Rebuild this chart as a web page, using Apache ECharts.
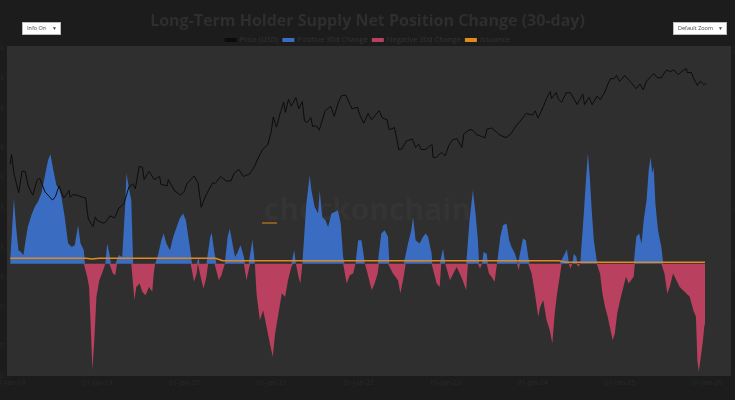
<!DOCTYPE html>
<html><head><meta charset="utf-8">
<script src="https://cdn.jsdelivr.net/npm/echarts@6/dist/echarts.min.js"></script>
<style>
html,body{margin:0;padding:0;background:#1c1c1c;}
#c{width:735px;height:400px;}
.dd{position:absolute;top:22px;height:13px;background:#fff;border:1px solid #bbb;box-sizing:border-box;font:5.5px 'Open Sans',sans-serif;color:#444;line-height:11px;}
.dd span.a{position:absolute;right:3px;top:0;font-size:5px;}
</style></head>
<body>
<div id="c"></div>
<div class="dd" style="left:22px;width:39px;"><span style="margin-left:4px">Info On</span><span class="a">▼</span></div>
<div class="dd" style="left:673px;width:54px;"><span style="margin-left:4px">Default Zoom</span><span class="a">▼</span></div>
<script>
// ---- Data ----
const tickLabelsX = ['2018','2019','2020','2021','2022','2023','2024','2025','2026'];
const priceTicks = [100,200,500,1000,2000,5000,10000,20000,50000,100000,200000];
const netTicks = [-1000,-500,0,500,1000,1500,2000];

const priceDates = ['2018-01-01','2018-01-07','2018-01-17','2018-02-06','2018-02-20','2018-03-05','2018-03-18','2018-04-06','2018-04-25','2018-05-05','2018-05-28','2018-06-12','2018-06-28','2018-07-10','2018-07-25','2018-08-14','2018-08-30','2018-09-05','2018-09-10','2018-09-22','2018-10-10','2018-10-31','2018-11-14','2018-11-20','2018-11-25','2018-12-07','2018-12-15','2018-12-24','2018-12-31',
'2019-01-10','2019-01-28','2019-02-08','2019-02-24','2019-03-15','2019-04-02','2019-04-23','2019-05-14','2019-05-30','2019-06-10','2019-06-26','2019-07-10','2019-07-17','2019-08-06','2019-08-29','2019-09-20','2019-09-25','2019-10-22','2019-10-26','2019-11-22','2019-12-17','2019-12-31',
'2020-01-14','2020-02-12','2020-02-28','2020-03-12','2020-03-16','2020-04-01','2020-04-29','2020-05-10','2020-06-01','2020-06-25','2020-07-15','2020-07-28','2020-08-17','2020-09-05','2020-09-30','2020-10-21','2020-11-05','2020-11-24','2020-12-16','2020-12-31',
'2021-01-08','2021-01-22','2021-02-08','2021-02-21','2021-02-28','2021-03-13','2021-03-25','2021-04-13','2021-04-25','2021-05-10','2021-05-19','2021-05-30','2021-06-15','2021-06-22','2021-07-08','2021-07-20','2021-08-14','2021-09-06','2021-09-21','2021-10-06','2021-10-20','2021-11-08','2021-11-26','2021-12-04','2021-12-27',
'2022-01-05','2022-01-22','2022-02-10','2022-02-24','2022-03-28','2022-04-11','2022-04-30','2022-05-09','2022-05-31','2022-06-13','2022-06-18','2022-07-01','2022-07-20','2022-08-14','2022-08-28','2022-09-10','2022-09-20','2022-10-10','2022-10-26','2022-11-05','2022-11-09','2022-11-21','2022-12-14','2022-12-30',
'2023-01-14','2023-01-29','2023-02-16','2023-03-10','2023-03-18','2023-04-13','2023-04-27','2023-05-11','2023-06-15','2023-06-23','2023-07-13','2023-08-17','2023-09-11','2023-10-02','2023-10-23','2023-11-09','2023-12-05','2023-12-31',
'2024-01-11','2024-01-23','2024-02-15','2024-02-28','2024-03-14','2024-03-20','2024-04-08','2024-04-17','2024-05-01','2024-05-21','2024-06-07','2024-06-24','2024-07-05','2024-07-29','2024-08-05','2024-08-24','2024-09-06','2024-09-27','2024-10-10','2024-10-29','2024-11-12','2024-11-22','2024-12-05','2024-12-17','2024-12-30',
'2025-01-20','2025-02-03','2025-02-27','2025-03-10','2025-03-25','2025-04-08','2025-04-22','2025-05-22','2025-06-05','2025-06-22','2025-07-14','2025-07-31','2025-08-14','2025-09-01','2025-09-18','2025-10-06','2025-10-10','2025-10-27','2025-11-04','2025-11-21','2025-12-03','2025-12-18','2025-12-28'];
const priceValues = [13500,17000,11000,7000,11500,11500,8200,6600,9500,9800,7100,6500,5900,6400,8200,6200,7000,7400,6300,6700,6600,6300,6200,4600,3800,3400,3200,4000,3700,
3600,3450,3600,4100,3900,4900,5400,8000,8600,7700,12900,12600,9500,11500,9500,10200,8500,8200,9500,7300,6600,7200,
8800,10300,8700,5000,5000,6600,8800,8700,10200,9200,9200,11000,12000,10200,10800,12800,15500,19000,21300,29000,
40500,32000,46000,57000,45000,61000,52000,63500,49000,58000,37000,35600,40000,32500,33000,29800,47000,51700,41000,55000,66000,67500,54000,49000,50800,
43000,35000,44000,38000,47000,39500,38000,30000,31700,22500,19000,19300,23200,24300,20000,21600,19000,19100,20700,21300,15900,15800,17800,16500,
20900,23700,24600,20000,27400,30400,29500,26900,25000,30600,31400,26600,25100,27500,33000,36700,44000,42300,
46600,39500,52000,62500,73000,62000,71600,61300,57000,71400,71000,60300,54000,69000,54000,64000,53900,65800,60300,72400,88000,99000,98000,106000,92000,
106000,98000,84000,78000,87000,76300,93000,111000,101000,100000,120000,115700,121000,108000,117000,124000,113000,114000,101000,84000,93000,86000,87500];

// 30-day net position change, thousands of BTC
const netDates = ['2018-01-02','2018-01-17','2018-01-26','2018-02-05','2018-02-15','2018-02-26','2018-03-07','2018-03-16','2018-03-31','2018-04-14','2018-04-28','2018-05-12','2018-05-26','2018-06-09','2018-06-19','2018-06-30','2018-07-14','2018-07-25','2018-08-04','2018-08-18','2018-09-01','2018-09-16','2018-09-29','2018-10-13','2018-10-23','2018-11-06','2018-11-11','2018-11-20','2018-11-28','2018-12-05','2018-12-12','2018-12-20','2018-12-29',
'2019-01-10','2019-01-24','2019-02-04','2019-02-12','2019-02-21','2019-02-28','2019-03-08','2019-03-18','2019-03-25','2019-04-02','2019-04-16','2019-04-28','2019-05-04','2019-05-13','2019-05-24','2019-05-29','2019-06-01','2019-06-06','2019-06-14','2019-06-28','2019-07-09','2019-07-23','2019-08-06','2019-08-20','2019-08-26','2019-09-01','2019-09-13','2019-09-27','2019-10-07','2019-10-18','2019-11-02','2019-11-16','2019-11-30','2019-12-13','2019-12-27',
'2020-01-08','2020-01-18','2020-01-28','2020-02-03','2020-02-11','2020-02-22','2020-02-27','2020-03-01','2020-03-05','2020-03-13','2020-03-22','2020-04-03','2020-04-10','2020-04-19','2020-04-25','2020-05-07','2020-05-15','2020-05-25','2020-06-05','2020-06-19','2020-07-01','2020-07-10','2020-07-21','2020-08-01','2020-08-10','2020-08-24','2020-09-07','2020-09-12','2020-09-18','2020-09-27','2020-10-03','2020-10-13','2020-10-23','2020-10-30','2020-11-13','2020-11-27','2020-12-11','2020-12-25',
'2021-01-06','2021-01-16','2021-01-30','2021-02-13','2021-02-27','2021-03-11','2021-03-25','2021-04-01','2021-04-06','2021-04-13','2021-04-24','2021-05-02','2021-05-10','2021-05-27','2021-06-10','2021-06-17','2021-07-01','2021-07-15','2021-07-22','2021-08-01','2021-08-15','2021-08-26','2021-09-09','2021-09-23','2021-10-06','2021-10-18','2021-10-28','2021-11-03','2021-11-12','2021-11-25','2021-12-09','2021-12-19','2021-12-30',
'2022-01-13','2022-01-21','2022-01-27','2022-02-04','2022-02-25','2022-03-09','2022-03-22','2022-03-27','2022-04-06','2022-04-20','2022-05-04','2022-05-10','2022-05-25','2022-06-15','2022-06-25','2022-07-09','2022-07-17','2022-07-27','2022-08-10','2022-08-17','2022-08-28','2022-09-14','2022-09-28','2022-10-09','2022-10-19','2022-11-03','2022-11-06','2022-11-24','2022-12-07','2022-12-13','2022-12-21','2022-12-30',
'2023-01-19','2023-02-02','2023-02-16','2023-03-01','2023-03-13','2023-03-28','2023-04-04','2023-04-11','2023-04-25','2023-05-06','2023-05-16','2023-05-21','2023-05-25','2023-06-02','2023-06-09','2023-06-22','2023-06-27','2023-07-01','2023-07-12','2023-07-25','2023-08-04','2023-08-18','2023-08-29','2023-09-13','2023-09-24','2023-10-04','2023-10-18','2023-10-27','2023-10-31','2023-11-03','2023-11-08','2023-11-21','2023-12-03','2023-12-13','2023-12-19','2023-12-27',
'2024-01-10','2024-01-24','2024-02-01','2024-02-14','2024-02-28','2024-03-12','2024-03-23','2024-04-02','2024-04-12','2024-04-23','2024-05-01','2024-05-14','2024-05-23','2024-06-01','2024-06-06','2024-06-15','2024-06-21','2024-07-02','2024-07-06','2024-07-10','2024-07-18','2024-07-24','2024-08-02','2024-08-10','2024-08-19','2024-08-27','2024-09-05','2024-09-13','2024-09-25','2024-09-29','2024-10-09','2024-10-19','2024-10-30','2024-11-10','2024-11-19','2024-12-01','2024-12-10','2024-12-20',
'2025-01-01','2025-01-15','2025-01-26','2025-02-06','2025-02-16','2025-02-27','2025-03-04','2025-03-10','2025-03-22','2025-04-01','2025-04-10','2025-04-22','2025-05-01','2025-05-09','2025-05-16','2025-05-22','2025-05-29','2025-06-09','2025-06-23','2025-07-01','2025-07-06','2025-07-18','2025-07-28','2025-08-11','2025-08-25','2025-09-08','2025-09-22','2025-10-06','2025-10-20','2025-11-04','2025-11-15','2025-11-21','2025-11-27','2025-12-04','2025-12-13','2025-12-20','2025-12-23'];
const netValues = [50,612,344,126,110,80,220,341,453,531,578,659,811,967,1023,890,734,703,625,437,190,157,173,360,190,126,0,-123,-217,-590,-995,-715,-310,
-154,-76,0,189,97,0,-92,-107,0,80,62,531,845,718,593,220,0,-341,-217,-185,-263,-294,-217,-263,-92,0,80,220,282,189,126,251,341,422,469,
406,251,97,0,-170,-92,0,62,0,-154,-232,-123,0,251,287,97,0,-154,-107,0,251,327,189,62,97,173,62,0,-154,-60,0,226,0,-279,-528,-435,-590,-746,
-871,-653,-466,-279,-310,-154,-30,0,126,0,-123,-185,0,563,827,687,531,469,687,437,406,344,469,484,500,376,64,0,-185,-107,-92,0,220,
220,95,0,-62,-248,-185,-92,0,282,313,251,0,-92,-154,-279,-123,0,189,313,437,220,189,251,282,251,95,0,-185,-217,0,143,0,
-154,-92,-30,-92,-154,-248,0,406,687,469,220,0,-47,0,109,94,0,-92,-123,-170,0,251,360,376,220,157,95,31,0,-62,0,235,220,62,0,-92,
-279,-497,-404,-341,-528,-621,-746,-466,-279,-123,0,93,133,0,-47,0,93,62,0,-31,0,189,469,750,1030,811,469,220,31,0,-92,-279,-404,-497,-590,-715,-653,-466,
-341,-217,-123,-185,-154,-123,0,251,282,187,406,593,874,998,843,905,563,313,157,0,-92,-279,-217,-92,-154,-217,-248,-279,-310,-435,-497,-902,-1010,-995,-746,-590,-560];

// 30-day issuance, thousands of BTC
const issuanceDates = ['2018-01-02','2018-11-15','2018-12-10','2019-01-10','2020-05-11','2020-06-10','2024-04-19','2024-05-19','2025-12-23'];
const issuanceValues = [50,50,44,50,50,27,27,13.5,13.5];

// ---- Build ----
const months = ['Jan','Feb','Mar','Apr','May','Jun','Jul','Aug','Sep','Oct','Nov','Dec'];
const DAY = 24 * 3600 * 1000;
const zip = (d, v) => d.map((x, i) => [x, v[i]]);
const posData = zip(netDates, netValues.map(v => (v > 0 ? v : 0)));
const negData = zip(netDates, netValues.map(v => (v < 0 ? v : 0)));

const fmtK = v => (v >= 1000 ? (v / 1000) + 'k' : String(v));

const chart = echarts.init(document.getElementById('c'));
chart.setOption({
  animation: false,
  backgroundColor: '#1c1c1c',
  textStyle: { fontFamily: "'Open Sans', sans-serif" },
  title: {
    text: 'Long-Term Holder Supply Net Position Change (30-day)',
    left: 'center', top: 8,
    textStyle: { color: '#2e2e2e', fontSize: 16, fontWeight: 'bold', fontFamily: "'Open Sans', sans-serif" }
  },
  legend: {
    top: 31, left: 'center',
    itemWidth: 12, itemHeight: 4, itemGap: 4,
    icon: 'rect',
    textStyle: { color: '#343434', fontSize: 7.5, padding: [0, 0, 0, -2] },
    data: ['Price (USD)', 'Positive 30d Change', 'Negative 30d Change', 'Issuance']
  },
  grid: { left: 7, right: 4, top: 46, bottom: 24, containLabel: false, outerBoundsMode: 'none',
    show: true, backgroundColor: '#2f2f2f', borderWidth: 0 },
  graphic: [
    { type: 'text', left: 'center', top: 196, z: 0, silent: true,
      style: { text: 'checkonchain', fill: '#343434', font: "bold 30px 'Open Sans', sans-serif" } },
    { type: 'rect', shape: { x: 262, y: 222, width: 15, height: 2 }, z: 0, style: { fill: '#8a5a26' } }
  ],
  xAxis: {
    type: 'time',
    min: '2017-12-19', max: '2026-04-11',
    minInterval: 365 * DAY, maxInterval: 366 * DAY,
    axisLine: { show: false }, axisTick: { show: false }, splitLine: { show: false },
    axisLabel: {
      color: '#2a2a2a', fontSize: 7, margin: 3, hideOverlap: false,
      formatter: v => { const d = new Date(v); if (d.getMonth() !== 0 || tickLabelsX.indexOf(String(d.getFullYear())) < 0) return ''; return '01-' + months[d.getMonth()] + '-' + String(d.getFullYear()).slice(2); }
    }
  },
  yAxis: [
    { type: 'log', min: 100, max: 210000, position: 'left',
      axisLine: { show: false }, axisTick: { show: false }, splitLine: { show: false },
      axisLabel: { customValues: priceTicks, color: '#2a2a2a', fontSize: 7, margin: 3, formatter: fmtK } },
    { type: 'value', min: -1050, max: 2035, position: 'right',
      axisLine: { show: false }, axisTick: { show: false }, splitLine: { show: false },
      axisLabel: { customValues: netTicks, color: '#2a2a2a', fontSize: 7, margin: 2,
        formatter: v => (Math.abs(v) >= 1000 ? (v / 1000) + 'M' : v + 'k') } }
  ],
  series: [
    { name: 'Positive 30d Change', type: 'line', yAxisIndex: 1, showSymbol: false, symbol: 'none',
      data: posData, lineStyle: { width: 0 }, itemStyle: { color: '#3a6dc2' },
      areaStyle: { color: '#3a6dc2', opacity: 1 }, z: 2 },
    { name: 'Negative 30d Change', type: 'line', yAxisIndex: 1, showSymbol: false, symbol: 'none',
      data: negData, lineStyle: { width: 0 }, itemStyle: { color: '#b9405f' },
      areaStyle: { color: '#b9405f', opacity: 1 }, z: 2 },
    { name: 'Issuance', type: 'line', yAxisIndex: 1, showSymbol: false, symbol: 'none',
      data: zip(issuanceDates, issuanceValues), lineStyle: { width: 1.5, color: '#e08a1e' },
      itemStyle: { color: '#e08a1e' }, z: 3 },
    { name: 'Price (USD)', type: 'line', yAxisIndex: 0, showSymbol: false, symbol: 'none',
      data: zip(priceDates, priceValues), lineStyle: { width: 1, color: '#0c0c0c' },
      itemStyle: { color: '#0c0c0c' }, z: 4 }
  ]
});
</script>
</body></html>
